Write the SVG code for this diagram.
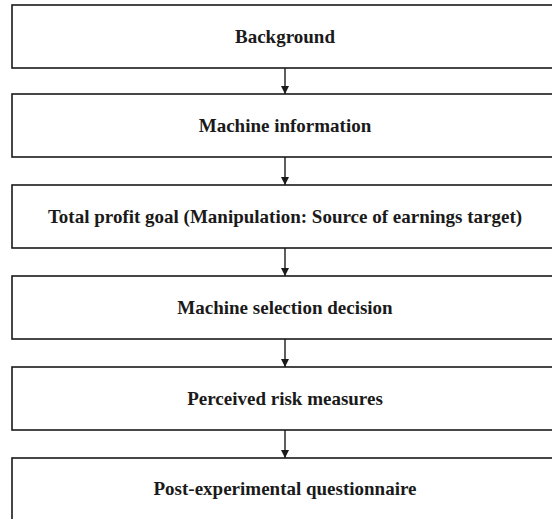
<svg xmlns="http://www.w3.org/2000/svg" width="552" height="519" viewBox="0 0 552 519">
<style>
.box{fill:#ffffff;stroke:#1a1a1a;stroke-width:1.6}
.lbl{font-family:"Liberation Serif","Times New Roman",serif;font-weight:bold;font-size:19px;fill:#1a1a1a;text-anchor:middle}
.conn{stroke:#1a1a1a;stroke-width:1.4;fill:none}
</style>
<defs>
<marker id="ah" viewBox="0 0 10 10" refX="10" refY="5" markerWidth="8" markerHeight="8" markerUnits="userSpaceOnUse" orient="auto">
<path d="M0,0 L10,5 L0,10 z" fill="#1a1a1a"/>
</marker>
</defs>
<rect width="552" height="519" fill="#ffffff"/>
<g id="connectors">
<line class="conn" x1="285" y1="68" x2="285" y2="94" marker-end="url(#ah)"/>
<line class="conn" x1="285" y1="157" x2="285" y2="185" marker-end="url(#ah)"/>
<line class="conn" x1="285" y1="248" x2="285" y2="276" marker-end="url(#ah)"/>
<line class="conn" x1="285" y1="339" x2="285" y2="367" marker-end="url(#ah)"/>
<line class="conn" x1="285" y1="430" x2="285" y2="458" marker-end="url(#ah)"/>
</g>
<g id="n1"><rect class="box" x="12" y="5" width="560" height="63"/><text class="lbl" x="285" y="43">Background</text></g>
<g id="n2"><rect class="box" x="12" y="94" width="560" height="63"/><text class="lbl" x="285" y="132">Machine information</text></g>
<g id="n3"><rect class="box" x="12" y="185" width="560" height="63"/><text class="lbl" x="285" y="223">Total profit goal (Manipulation: Source of earnings target)</text></g>
<g id="n4"><rect class="box" x="12" y="276" width="560" height="63"/><text class="lbl" x="285" y="314">Machine selection decision</text></g>
<g id="n5"><rect class="box" x="12" y="367" width="560" height="63"/><text class="lbl" x="285" y="405">Perceived risk measures</text></g>
<g id="n6"><rect class="box" x="12" y="458" width="560" height="80"/><text class="lbl" x="285" y="495">Post-experimental questionnaire</text></g>
</svg>
